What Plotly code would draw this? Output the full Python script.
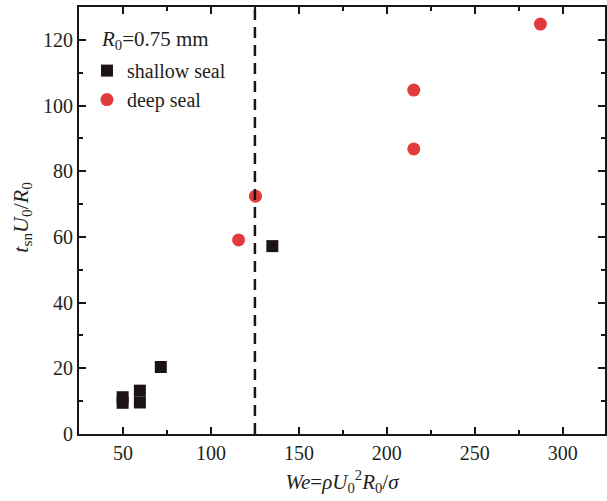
import plotly.graph_objects as go

# data
shallow_we = [49.8, 49.8, 59.6, 59.6, 71.5, 134.9]
shallow_t = [11.2, 9.5, 13.2, 9.6, 20.4, 57.2]
deep_we = [115.7, 125.3, 215.3, 215.3, 287.3]
deep_t = [59.1, 72.4, 104.7, 86.8, 124.8]
we_critical = 125
x_ticks = [50, 100, 150, 200, 250, 300]
y_ticks = [0, 20, 40, 60, 80, 100, 120]

FONT = "Liberation Serif"
INK = "#1c1414"
TXT = "#231f20"

fig = go.Figure()
fig.add_trace(go.Scatter(x=shallow_we, y=shallow_t, mode="markers", name="shallow seal",
                         marker=dict(symbol="square", size=12, color=INK, line=dict(width=0))))
fig.add_trace(go.Scatter(x=deep_we, y=deep_t, mode="markers", name="deep seal",
                         marker=dict(symbol="circle", size=13, color="#e23b3b", line=dict(width=0))))

fig.add_shape(type="line", x0=we_critical, x1=we_critical, y0=0, y1=1, xref="x", yref="paper",
              line=dict(color=INK, width=2.5, dash="11px,7px"))

axis_common = dict(showline=True, linecolor=INK, linewidth=2, mirror="ticks", ticks="inside",
                   ticklen=7, tickwidth=2, tickcolor=INK, showgrid=False, zeroline=False,
                   tickfont=dict(family=FONT, size=20, color=TXT))

fig.update_xaxes(range=[25, 324], tickvals=x_ticks,
                 minor=dict(ticks="inside", ticklen=4, tickwidth=2, tickcolor=INK, dtick=25, tick0=25),
                 title=dict(text="<i>We</i>=<i>ρU</i><sub>0</sub><sup>2</sup><i>R</i><sub>0</sub>/<i>σ</i>",
                            font=dict(family=FONT, size=21, color=TXT), standoff=11),
                 **axis_common)
fig.update_yaxes(range=[0, 130], tickvals=y_ticks,
                 minor=dict(ticks="inside", ticklen=4, tickwidth=2, tickcolor=INK, dtick=10, tick0=0),
                 **axis_common)

fig.add_annotation(text="<i>t</i><sub>sn</sub><i>U</i><sub>0</sub>/<i>R</i><sub>0</sub>",
                   textangle=-90, xref="paper", yref="paper",
                   x=(22 - 79) / 528, y=(434 - 218) / 426, xanchor="center", yanchor="middle",
                   showarrow=False, font=dict(family=FONT, size=22, color=TXT))

fig.add_annotation(text="<i>R</i><sub>0</sub>=0.75 mm", xref="paper", yref="paper",
                   x=(99 - 79) / 528, y=1 - (40 - 7) / 426, xanchor="left", yanchor="middle",
                   showarrow=False, font=dict(family=FONT, size=21, color=TXT))

fig.update_layout(
    width=607, height=501,
    margin=dict(l=79, r=0, t=7, b=67),
    paper_bgcolor="white", plot_bgcolor="white",
    legend=dict(x=(87 - 79) / 528, y=1 - (51 - 7) / 426, xanchor="left", yanchor="top",
                bgcolor="rgba(0,0,0,0)", font=dict(family=FONT, size=20, color=TXT),
                tracegroupgap=0, itemwidth=30),
)

fig.write_html("out.html")
